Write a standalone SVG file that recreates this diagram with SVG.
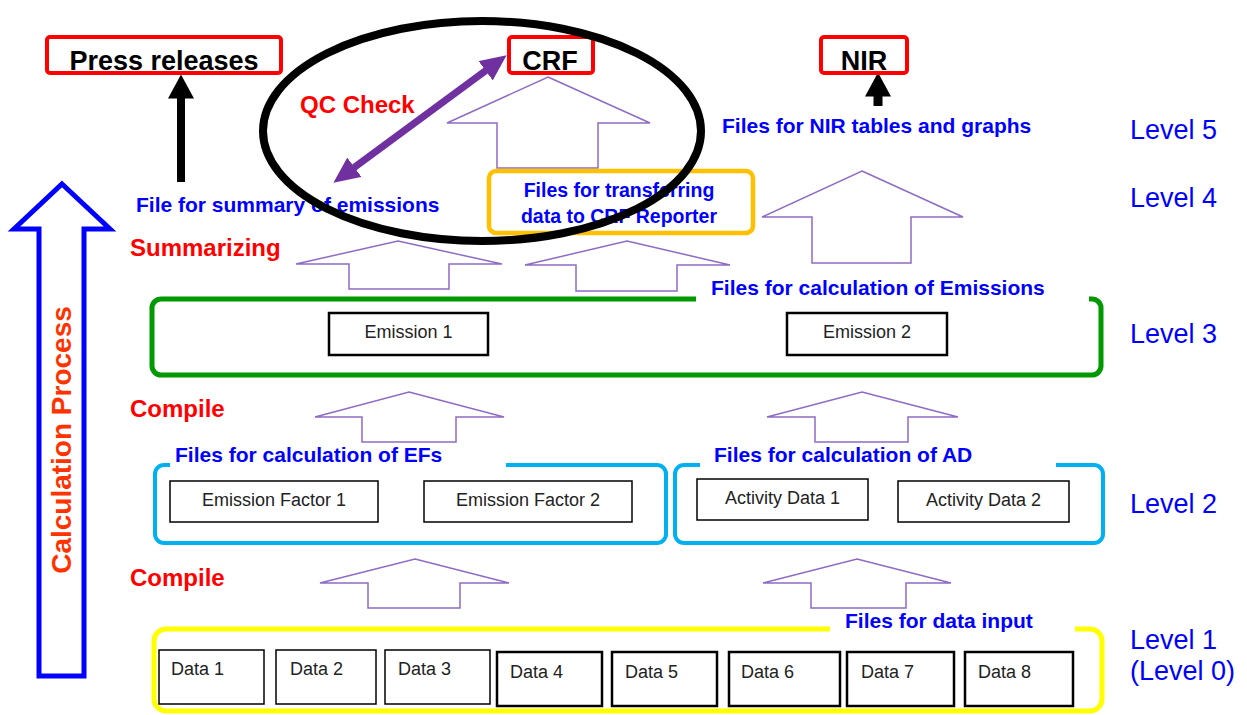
<svg xmlns="http://www.w3.org/2000/svg" width="1247" height="715" viewBox="0 0 1247 715">
<defs>
<style>
text{font-family:"Liberation Sans",Arial,sans-serif}
.b{font-weight:bold}
.blue{fill:#0000FF}
.red{fill:#FF0000}
.lvl{fill:#0000FF;font-size:27px}
.lab{fill:#0000FF;font-weight:bold;font-size:21px}
.redlab{fill:#FF0000;font-weight:bold;font-size:24px}
.top{fill:#fff;stroke:#FF0000;stroke-width:4}
.toptxt{font-weight:bold;font-size:27px;fill:#000;text-anchor:middle}
.box{fill:#fff;stroke:#000;stroke-width:1.5}
.box2{fill:#fff;stroke:#000;stroke-width:2.5}
.bt{font-size:18px;fill:#222}
.ct{text-anchor:middle}
.hollow{fill:#fff;stroke:#8F6BC4;stroke-width:1.5;stroke-linejoin:miter}
.grp{fill:none;stroke-linecap:butt}
</style>
<marker id="blkHead" markerUnits="userSpaceOnUse" markerWidth="24" markerHeight="26" refX="0.5" refY="13" orient="auto" viewBox="0 0 24 26"><path d="M0,0 L24,13 L0,26 z" fill="#000"/></marker>
<marker id="purHead" markerUnits="userSpaceOnUse" markerWidth="26" markerHeight="24" refX="0.5" refY="12" orient="auto-start-reverse" viewBox="0 0 26 24"><path d="M0,0 L26,12 L0,24 z" fill="#7030A0"/></marker>
</defs>
<rect width="1247" height="715" fill="#fff"/>

<!-- big process arrow -->
<g id="calc-process">
<polygon points="62,184 110,229 84,229 84,676 39,676 39,229 14,229" fill="#fff" stroke="#0000FF" stroke-width="5"/>
<text transform="translate(71,440) rotate(-90)" text-anchor="middle" font-size="28" font-weight="bold" fill="#FF3300">Calculation Process</text>
</g>

<!-- group containers -->
<g id="level3-group">
<path class="grp" d="M696,299 H161 A9,9 0 0 0 152,308 V366 A9,9 0 0 0 161,375 H1092 A9,9 0 0 0 1101,366 V308 A9,9 0 0 0 1092,299 H1089" stroke="#009900" stroke-width="5"/>
<text class="lab" x="711" y="295">Files for calculation of Emissions</text>
</g>
<g id="ef-group">
<path class="grp" d="M170,465 H164 A9,9 0 0 0 155,474 V534 A9,9 0 0 0 164,543 H657 A9,9 0 0 0 666,534 V474 A9,9 0 0 0 657,465 H506" stroke="#00B0F0" stroke-width="4"/>
<text class="lab" x="175" y="462">Files for calculation of EFs</text>
</g>
<g id="ad-group">
<path class="grp" d="M700,465 H684 A9,9 0 0 0 675,474 V534 A9,9 0 0 0 684,543 H1094 A9,9 0 0 0 1103,534 V474 A9,9 0 0 0 1094,465 H1056" stroke="#00B0F0" stroke-width="4"/>
<text class="lab" x="714" y="462">Files for calculation of AD</text>
</g>
<g id="data-group">
<path class="grp" d="M830,629 H166 A12,12 0 0 0 154,641 V699 A12,12 0 0 0 166,711 H1090 A12,12 0 0 0 1102,699 V641 A12,12 0 0 0 1090,629 H1075" stroke="#FFFF00" stroke-width="5"/>
<text class="lab" x="845" y="628">Files for data input</text>
</g>

<!-- connectors -->
<g id="connectors">
<polygon class="hollow" points="548,77 650,123 598,123 598,168 497,168 497,123 447,123"/>
<polygon class="hollow" points="862,171 963,217 911,217 911,263 812,263 812,217 762,217"/>
<polygon class="hollow" points="398,241 502,264 449,264 449,289 349,289 349,264 296,264"/>
<polygon class="hollow" points="627,241 730,265 677,265 677,291 576,291 576,265 525,265"/>
<polygon class="hollow" points="409,392 504,417 456,417 456,442 362,442 362,417 315,417"/>
<polygon class="hollow" points="862,392 958,417 908,417 908,442 815,442 815,417 767,417"/>
<polygon class="hollow" points="415,559 509,583 460,583 460,608 368,608 368,583 320,583"/>
<polygon class="hollow" points="857,559 951,583 906,583 906,608 811,608 811,583 763,583"/>
<line x1="181" y1="182" x2="181" y2="98" stroke="#000" stroke-width="8" marker-end="url(#blkHead)"/>
<line x1="878" y1="106" x2="878" y2="96" stroke="#000" stroke-width="9" marker-end="url(#blkHead)"/>
<line x1="353.96" y1="167.58" x2="486.04" y2="70.42" stroke="#7030A0" stroke-width="7" marker-start="url(#purHead)" marker-end="url(#purHead)"/>
</g>

<!-- top outputs -->
<g id="press-releases">
<rect class="top" x="47" y="37" width="234" height="36" rx="3"/>
<text class="toptxt" x="164" y="70">Press releases</text>
</g>
<g id="crf">
<rect class="top" x="509" y="37" width="84" height="36" rx="3"/>
<text class="toptxt" x="550" y="70">CRF</text>
</g>
<g id="nir">
<rect class="top" x="821" y="37" width="86" height="36" rx="3"/>
<text class="toptxt" x="864" y="70">NIR</text>
</g>

<!-- level 4/5 files -->
<g id="summary-file">
<text class="lab" x="136" y="212">File for summary of emissions</text>
</g>
<g id="nir-files">
<text class="lab" x="722" y="133">Files for NIR tables and graphs</text>
</g>
<g id="crf-transfer">
<rect x="489" y="171" width="264" height="62" rx="7" fill="#fff" stroke="#FFC000" stroke-width="4.5"/>
<text class="b blue ct" x="619" y="197" font-size="19.5">Files for transferring</text>
<text class="b blue ct" x="619" y="223" font-size="19.5">data to CRF Reporter</text>
</g>

<!-- QC check -->
<g id="qc-check">
<text class="redlab" x="300" y="113">QC Check</text>
<ellipse cx="482" cy="131" rx="219" ry="110" fill="none" stroke="#000" stroke-width="8"/>
</g>

<!-- process labels -->
<text class="redlab" x="130" y="256">Summarizing</text>
<text class="redlab" x="130" y="417">Compile</text>
<text class="redlab" x="130" y="586">Compile</text>

<!-- level labels -->
<text class="lvl" x="1130" y="139">Level 5</text>
<text class="lvl" x="1130" y="207">Level 4</text>
<text class="lvl" x="1130" y="343">Level 3</text>
<text class="lvl" x="1130" y="513">Level 2</text>
<text class="lvl" x="1130" y="649">Level 1</text>
<text class="lvl" x="1130" y="680">(Level 0)</text>

<!-- level 3 nodes -->
<g id="emission-1"><rect class="box2" x="329" y="313" width="159" height="42"/><text class="bt ct" x="408.5" y="338">Emission 1</text></g>
<g id="emission-2"><rect class="box2" x="787" y="313" width="160" height="42"/><text class="bt ct" x="867" y="338">Emission 2</text></g>

<!-- level 2 nodes -->
<g id="ef-1"><rect class="box" x="170" y="481" width="208" height="41"/><text class="bt ct" x="274" y="506">Emission Factor 1</text></g>
<g id="ef-2"><rect class="box" x="424" y="481" width="208" height="41"/><text class="bt ct" x="528" y="506">Emission Factor 2</text></g>
<g id="ad-1"><rect class="box" x="697" y="479" width="171" height="41"/><text class="bt ct" x="782.5" y="504">Activity Data 1</text></g>
<g id="ad-2"><rect class="box" x="898" y="481" width="171" height="41"/><text class="bt ct" x="983.5" y="506">Activity Data 2</text></g>

<!-- level 1 nodes -->
<g id="data-1"><rect class="box" x="159" y="650" width="105" height="54"/><text class="bt" x="171" y="675">Data 1</text></g>
<g id="data-2"><rect class="box" x="276" y="650" width="100" height="54"/><text class="bt" x="290" y="675">Data 2</text></g>
<g id="data-3"><rect class="box" x="385" y="650" width="105" height="54"/><text class="bt" x="398" y="675">Data 3</text></g>
<g id="data-4"><rect class="box2" x="497" y="652" width="105" height="54"/><text class="bt" x="510" y="678">Data 4</text></g>
<g id="data-5"><rect class="box2" x="612" y="652" width="105" height="54"/><text class="bt" x="625" y="678">Data 5</text></g>
<g id="data-6"><rect class="box2" x="729" y="652" width="111" height="54"/><text class="bt" x="741" y="678">Data 6</text></g>
<g id="data-7"><rect class="box2" x="847" y="652" width="107" height="54"/><text class="bt" x="861" y="678">Data 7</text></g>
<g id="data-8"><rect class="box2" x="965" y="652" width="108" height="54"/><text class="bt" x="978" y="678">Data 8</text></g>
</svg>
